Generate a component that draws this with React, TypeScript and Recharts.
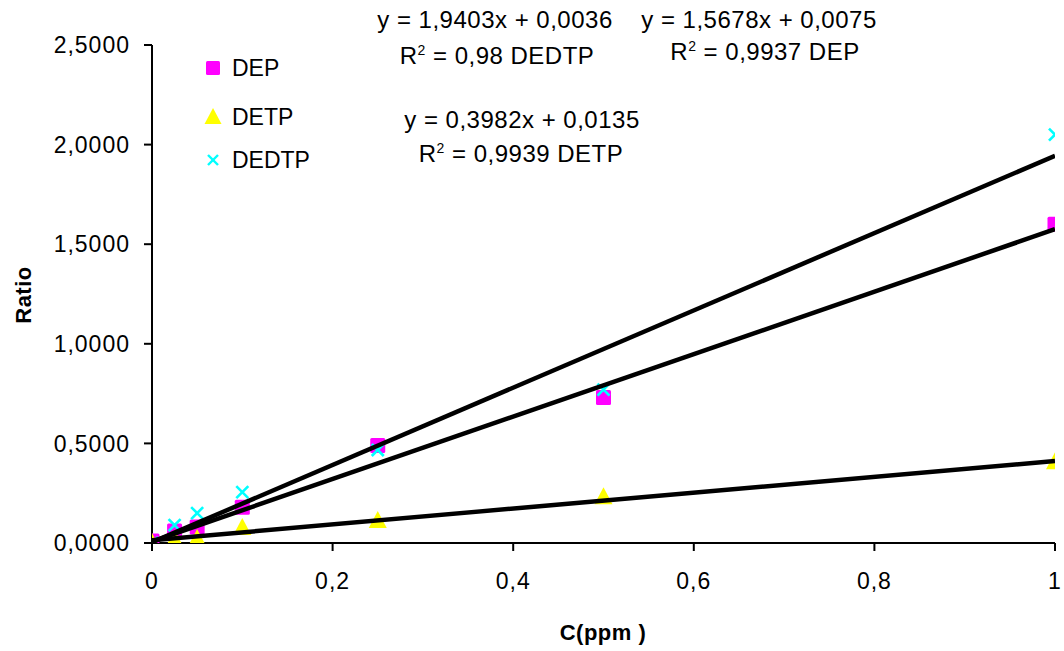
import { Scatter, ScatterChart, XAxis, YAxis } from "recharts";

const concentrations = [0, 0.025, 0.05, 0.1, 0.25, 0.5, 1];
const depRatio = [0.01, 0.06, 0.08, 0.18, 0.49, 0.73, 1.6];
const detpRatio = [0.0, 0.015, 0.02, 0.075, 0.11, 0.23, 0.405];
const dedtpRatio = [0.0, 0.09, 0.15, 0.255, 0.467, 0.77, 2.05];

// trend line end points (x = 0 and x = 1) read from the fitted equations
const dedtpTrend = [0.0036, 1.9439];
const depTrend = [0.0075, 1.5753];
const detpTrend = [0.0135, 0.4117];
const trendX = [0, 1];

const yTicks = [0, 0.5, 1, 1.5, 2, 2.5];
const xTicks = [0, 0.2, 0.4, 0.6, 0.8, 1];

const toPoints = (ys: number[], xs: number[]) => ys.map((y, i) => ({ x: xs[i], y }));

const font = "'Liberation Sans', Arial, sans-serif";

function Square(props: any) {
  const { cx, cy } = props;
  return <rect x={cx - 7.5} y={cy - 7.5} width={15} height={15} rx={1.5} fill="#ff00ff" />;
}

function Triangle(props: any) {
  const { cx, cy } = props;
  return <polygon points={`${cx},${cy - 10} ${cx + 9},${cy + 7} ${cx - 9},${cy + 7}`} fill="#ffff00" />;
}

function Cross(props: any) {
  const { cx, cy } = props;
  const s = 6;
  return (
    <g stroke="#00ffff" strokeWidth={2.6}>
      <line x1={cx - s} y1={cy - s} x2={cx + s} y2={cy + s} />
      <line x1={cx - s} y1={cy + s} x2={cx + s} y2={cy - s} />
    </g>
  );
}

const NoDot = () => <g />;

function Label({ x, y, children, size = 24, bold = false }: any) {
  return (
    <div
      style={{
        position: "absolute",
        left: x,
        top: y,
        transform: "translate(-50%, -50%)",
        fontFamily: font,
        fontSize: size,
        fontWeight: bold ? 700 : 400,
        whiteSpace: "nowrap",
        color: "#000",
        letterSpacing: 0.5,
      }}
    >
      {children}
    </div>
  );
}

const legendItems = [
  { name: "DEP", top: 68, icon: <rect x={3} y={3} width={14} height={14} rx={1.5} fill="#ff00ff" /> },
  { name: "DETP", top: 117, icon: <polygon points="10,1 18.5,17 1.5,17" fill="#ffff00" /> },
  {
    name: "DEDTP",
    top: 160,
    icon: (
      <g stroke="#00ffff" strokeWidth={2.4}>
        <line x1={5} y1={5} x2={15} y2={15} />
        <line x1={5} y1={15} x2={15} y2={5} />
      </g>
    ),
  },
];

export default function App() {
  return (
    <div style={{ position: "absolute", left: 0, top: 0, width: 1064, height: 651, background: "#fff" }}>
      <ScatterChart width={1064} height={651} margin={{ top: 45, right: 9, bottom: 0, left: 0 }}>
        <XAxis
          type="number"
          dataKey="x"
          domain={[0, 1]}
          ticks={xTicks}
          tickFormatter={(v: number) => (v === 0 || v === 1 ? String(v) : v.toFixed(1).replace(".", ","))}
          tick={{ fill: "#000", fontSize: 23, fontFamily: font, letterSpacing: 1 }}
          axisLine={{ stroke: "#000", strokeWidth: 2 }}
          tickLine={{ stroke: "#000", strokeWidth: 2 }}
          tickSize={8}
          tickMargin={22}
          height={108}
          allowDataOverflow
        />
        <YAxis
          type="number"
          dataKey="y"
          domain={[0, 2.5]}
          ticks={yTicks}
          tickFormatter={(v: number) => v.toFixed(4).replace(".", ",")}
          tick={{ fill: "#000", fontSize: 23, fontFamily: font, letterSpacing: 1 }}
          axisLine={{ stroke: "#000", strokeWidth: 2 }}
          tickLine={{ stroke: "#000", strokeWidth: 2 }}
          tickSize={8}
          tickMargin={14}
          width={152}
          allowDataOverflow
        />
        <Scatter data={toPoints(depRatio, concentrations)} shape={<Square />} isAnimationActive={false} />
        <Scatter data={toPoints(detpRatio, concentrations)} shape={<Triangle />} isAnimationActive={false} />
        <Scatter data={toPoints(dedtpRatio, concentrations)} shape={<Cross />} isAnimationActive={false} />
        <Scatter
          data={toPoints(dedtpTrend, trendX)}
          shape={<NoDot />}
          line={{ stroke: "#000", strokeWidth: 4.5 }}
          isAnimationActive={false}
        />
        <Scatter
          data={toPoints(depTrend, trendX)}
          shape={<NoDot />}
          line={{ stroke: "#000", strokeWidth: 4.5 }}
          isAnimationActive={false}
        />
        <Scatter
          data={toPoints(detpTrend, trendX)}
          shape={<NoDot />}
          line={{ stroke: "#000", strokeWidth: 4.5 }}
          isAnimationActive={false}
        />
      </ScatterChart>

      {legendItems.map((item) => (
        <div
          key={item.name}
          style={{
            position: "absolute",
            left: 203,
            top: item.top - 12,
            display: "flex",
            alignItems: "center",
            fontFamily: font,
            fontSize: 23,
            height: 24,
          }}
        >
          <svg width={20} height={20} style={{ marginRight: 9 }}>
            {item.icon}
          </svg>
          <span>{item.name}</span>
        </div>
      ))}

      <Label x={495} y={20}>y = 1,9403x + 0,0036</Label>
      <Label x={497} y={56}>
        R<sup style={{ fontSize: 14 }}>2</sup> = 0,98 DEDTP
      </Label>
      <Label x={759} y={20}>y = 1,5678x + 0,0075</Label>
      <Label x={765} y={52}>
        R<sup style={{ fontSize: 14 }}>2</sup> = 0,9937 DEP
      </Label>
      <Label x={522} y={120}>y = 0,3982x + 0,0135</Label>
      <Label x={521} y={154}>
        R<sup style={{ fontSize: 14 }}>2</sup> = 0,9939 DETP
      </Label>

      <Label x={603} y={633} size={22} bold>
        C(ppm )
      </Label>
      <div
        style={{
          position: "absolute",
          left: 24,
          top: 295,
          transform: "translate(-50%, -50%) rotate(-90deg)",
          fontFamily: font,
          fontSize: 22,
          fontWeight: 700,
          letterSpacing: 0.5,
        }}
      >
        Ratio
      </div>
    </div>
  );
}
